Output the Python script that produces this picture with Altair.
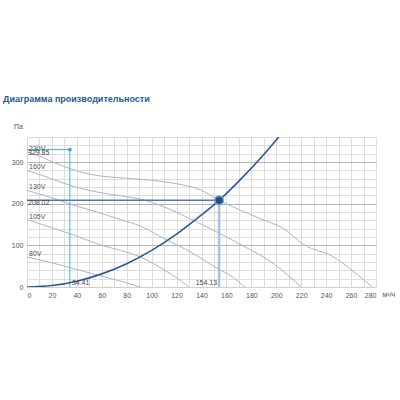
import altair as alt
import pandas as pd

# ---- data ----
curve_names = ["230V", "160V", "130V", "105V", "80V"]
q_230 = [0, 10, 20, 34.5, 50, 60, 80, 100, 120, 140, 154.13, 170, 187, 206, 222, 246, 259, 277]
p_230 = [324, 314, 301, 284, 271, 266, 261, 256, 248, 232, 208, 186, 164, 140, 102, 72, 44, 0]
q_160 = [0, 15, 34.5, 56, 75, 95, 115, 135, 155, 175, 195, 211, 220]
p_160 = [280, 265, 244, 228, 219, 208, 186, 158, 128, 96, 62, 24, 0]
q_130 = [0, 20, 40, 56, 75, 91, 110, 130, 152, 165, 175]
p_130 = [232, 214, 194, 180, 162, 146, 116, 86, 46, 24, 0]
q_105 = [0, 20, 40, 60, 75, 91, 105, 118, 130]
p_105 = [162, 142, 122, 100, 88, 72, 50, 26, 0]
q_80 = [0, 20, 40, 60, 75, 91]
p_80 = [72, 58, 42, 26, 14, 0]

sys_q = [0, 20, 40, 60, 80, 100, 120, 140, 154.13, 170, 190, 202]
sys_p = [0, 3.5, 14, 31.5, 56, 88, 127, 173, 208.02, 254, 318, 360]

work_q, work_p = 154.13, 208.02
max_q, max_p = 34.41, 329.85

x_ticks = list(range(0, 281, 10))
y_ticks = list(range(0, 361, 20))

FONT = "Liberation Sans"

rows = []
for name, qs, ps in zip(curve_names, [q_230, q_160, q_130, q_105, q_80],
                        [p_230, p_160, p_130, p_105, p_80]):
    for i, (q, p) in enumerate(zip(qs, ps)):
        rows.append({"curve": name, "q": q, "p": p, "i": i})
fan = pd.DataFrame(rows)
labels_df = fan[fan["i"] == 0]
sysdf = pd.DataFrame({"q": sys_q, "p": sys_p})

xscale = alt.Scale(domain=[0, 280], nice=False, zero=True)
yscale = alt.Scale(domain=[0, 360], nice=False, zero=True)

xaxis = alt.Axis(values=x_ticks, labelExpr="datum.value % 20 === 0 ? datum.label : ''",
                 labelOverlap=False,
                 grid=True, gridColor="#dedede", gridWidth=1, ticks=False,
                 domain=True, domainColor="#cfcfcf",
                 labelFontSize=7, labelColor="#555", labelFont=FONT, labelPadding=4,
                 title="м³/ч", titleFontSize=7, titleFontWeight="normal", titleColor="#555",
                 titleFont=FONT, titleAlign="left", titleBaseline="middle",
                 titleX=355, titleY=7)
yaxis = alt.Axis(values=y_ticks, labelExpr="datum.value % 100 === 0 ? datum.label : ''",
                 labelOverlap=False,
                 grid=True,
                 gridColor={"condition": {"test": "datum.value % 100 === 0", "value": "#b4b4b4"},
                            "value": "#dedede"},
                 gridWidth=1, ticks=False, domain=False,
                 labelFontSize=7, labelColor="#555", labelFont=FONT, labelPadding=4,
                 title="Па", titleAngle=0, titleFontSize=7, titleFontWeight="normal",
                 titleColor="#555", titleFont=FONT, titleAlign="center",
                 titleBaseline="middle", titleX=-9, titleY=-11)


def X(field):
    return alt.X(field, type="quantitative", scale=xscale, axis=xaxis)


def Y(field):
    return alt.Y(field, type="quantitative", scale=yscale, axis=yaxis)


base_fan = alt.Chart(fan).mark_line(color="#a2b7d2", strokeWidth=1, interpolate="monotone").encode(
    x=X("q"), y=Y("p"), detail="curve:N", order="i:Q")

fan_labels = alt.Chart(labels_df).mark_text(align="left", baseline="bottom", dx=2, dy=0,
                                            fontSize=7, color="#555", font=FONT).encode(
    x=X("q"), y=Y("p"), text="curve:N")

sys_line = alt.Chart(sysdf).mark_line(color="#2a5b93", strokeWidth=1.6, interpolate="monotone",
                                      clip=True).encode(x=X("q"), y=Y("p"))

wp = pd.DataFrame({"q": [work_q], "p": [work_p], "q0": [0], "p0": [0],
                   "lq": [f"{work_q:.2f}"], "lp": [f"{work_p:.2f}"]})
mp = pd.DataFrame({"q": [max_q], "p": [max_p], "q0": [0], "p0": [0],
                   "lq": [f"{max_q:.2f}"], "lp": [f"{max_p:.2f}"]})

wp_h = alt.Chart(wp).mark_rule(color="#5379a8", strokeWidth=1.5).encode(
    x=X("q0"), x2="q:Q", y=Y("p"))
wp_v = alt.Chart(wp).mark_rule(color="#a9c1de", strokeWidth=2.5).encode(
    x=X("q"), y=Y("p0"), y2="p:Q")
wp_pt = alt.Chart(wp).mark_point(filled=True, size=75, fill="#214e88", stroke="#7f9fc8",
                                 strokeWidth=1.5, opacity=1).encode(x=X("q"), y=Y("p"))
wp_lx = alt.Chart(wp).mark_text(align="right", baseline="bottom", dx=-2, dy=-1, fontSize=7,
                                color="#444", font=FONT).encode(x=X("q"), y=Y("p0"), text="lq:N")
wp_ly = alt.Chart(wp).mark_text(align="left", baseline="middle", dx=1, dy=3, fontSize=7,
                                color="#444", font=FONT).encode(x=X("q0"), y=Y("p"), text="lp:N")

mp_h = alt.Chart(mp).mark_rule(color="#3db3e6", strokeWidth=1).encode(
    x=X("q0"), x2="q:Q", y=Y("p"))
mp_v = alt.Chart(mp).mark_rule(color="#3db3e6", strokeWidth=1).encode(
    x=X("q"), y=Y("p0"), y2="p:Q")
mp_pt = alt.Chart(mp).mark_point(filled=True, size=14, color="#2aa6dc", opacity=1).encode(
    x=X("q"), y=Y("p"))
mp_lx = alt.Chart(mp).mark_text(align="left", baseline="bottom", dx=2, dy=-1, fontSize=7,
                                color="#444", font=FONT).encode(x=X("q"), y=Y("p0"), text="lq:N")
mp_ly = alt.Chart(mp).mark_text(align="left", baseline="middle", dx=1, dy=3, fontSize=7,
                                color="#444", font=FONT).encode(x=X("q0"), y=Y("p"), text="lp:N")

chart = alt.layer(
    base_fan, wp_h, wp_v, mp_h, mp_v, sys_line, fan_labels,
    wp_pt, mp_pt, wp_lx, wp_ly, mp_lx, mp_ly
).properties(
    width=349, height=150,
    title=alt.TitleParams("Диаграмма производительности", anchor="start", frame="group",
                          fontSize=9, font=FONT, fontWeight="bold", color="#245d90",
                          dx=-24, offset=18),
    autosize=alt.AutoSizeParams(type="none"),
    padding={"left": 27, "top": 137, "right": 24, "bottom": 113},
).configure_view(fill="#fafafa", stroke="#d6d6d6").configure(background="white")

chart.save("out.html", embed_options={"renderer": "svg", "actions": False})
